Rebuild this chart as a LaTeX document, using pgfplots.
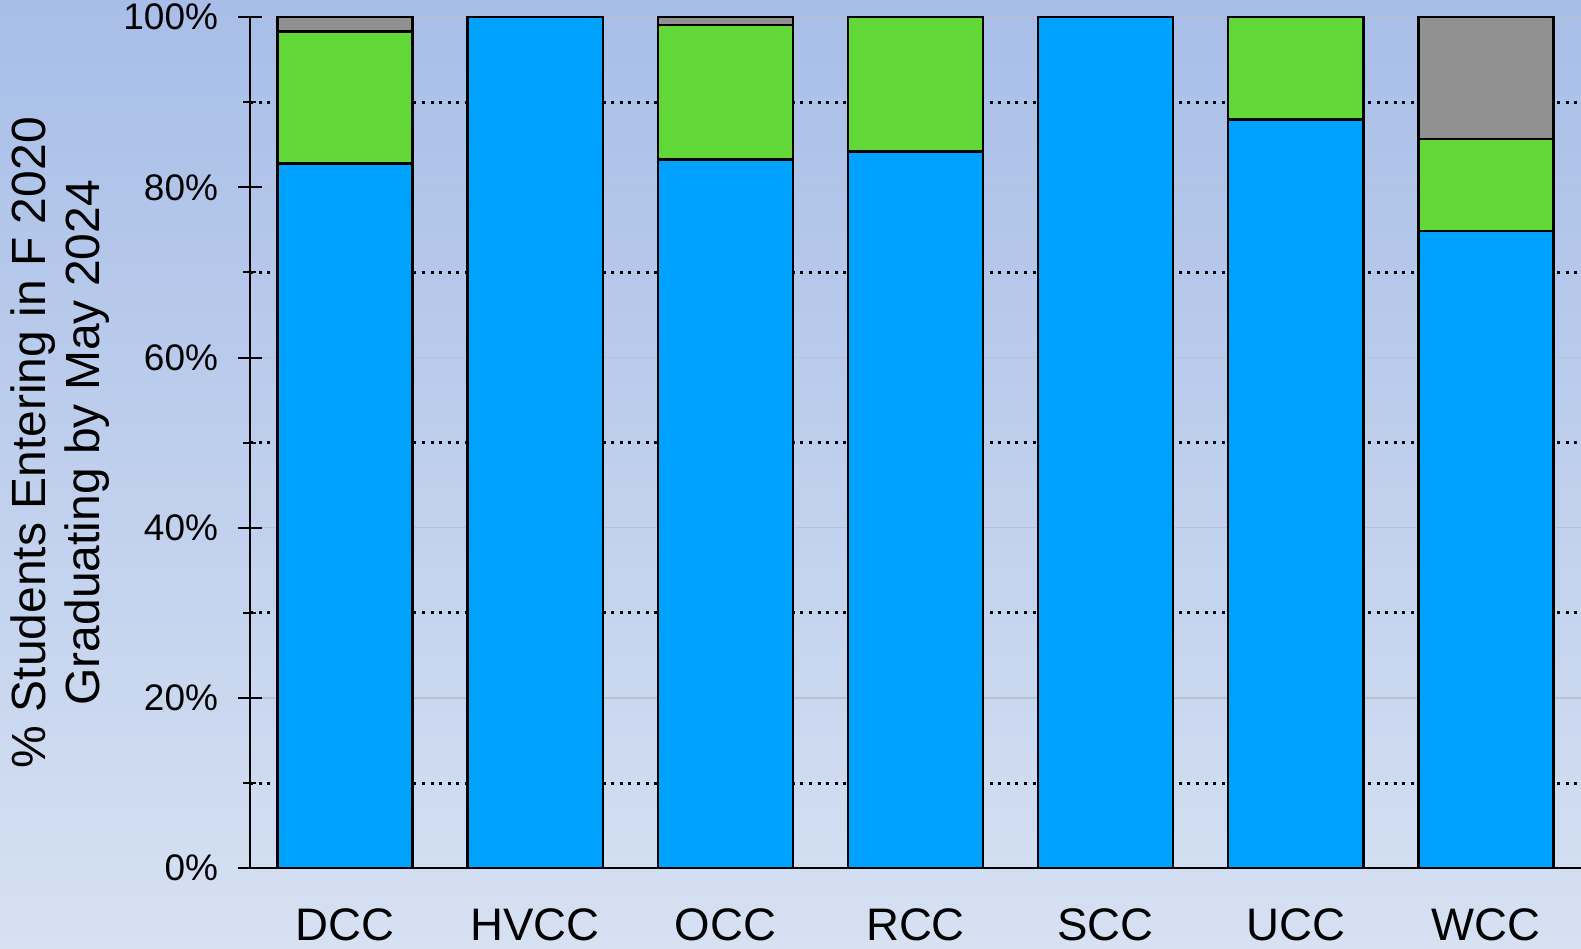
\documentclass[border=0pt]{standalone}
\usepackage{pgfplots}
\pgfplotsset{compat=1.18}
\usepackage{fontspec}
\setmainfont{Liberation Sans}
\definecolor{cblue}{RGB}{0,162,255}
\definecolor{cgreen}{RGB}{98,216,56}
\definecolor{cgray}{RGB}{145,145,145}
\definecolor{bgtop}{RGB}{168,190,232}
\definecolor{bgbot}{RGB}{214,225,242}
\definecolor{gridgray}{RGB}{188,192,204}
\begin{document}
\begin{tikzpicture}
\shade[top color=bgtop, bottom color=bgbot] (-125pt,-40pt) rectangle (665.5pt,434.1pt);
\begin{axis}[
  at={(0,0)}, anchor=south west,
  width=665.5pt, height=425.5pt, scale only axis,
  ybar stacked, bar width=67.6pt,
  xmin=-0.5, xmax=6.5, ymin=0, ymax=100,
  xtick=data,
  xticklabels={DCC,HVCC,OCC,RCC,SCC,UCC,WCC},
  xtick style={draw=none},
  xticklabel style={font=\fontsize{22.8}{26}\selectfont, anchor=north, inner sep=0pt, yshift=-14pt},
  ytick={0,20,40,60,80,100},
  minor ytick={10,30,50,70,90},
  yticklabel={\pgfmathprintnumber{\tick}\%},
  yticklabel style={font=\fontsize{18.5}{22}\selectfont, anchor=east, inner sep=0pt, xshift=-10pt},
  /pgf/number format/assume math mode=true,
  tick align=center,
  major tick length=11.6pt, minor tick length=6.5pt,
  tick style={black, line width=1pt},
  ymajorgrids, yminorgrids,
  major grid style={gridgray, line width=0.6pt},
  minor grid style={black, line width=1.5pt, dash pattern=on 1.5pt off 2.8pt},
  axis x line*=bottom, axis y line*=left,
  axis line style={black, line width=1pt},
  ylabel={\% Students Entering in F 2020\\Graduating by May 2024},
  every axis y label/.style={at={(axis description cs:0,0.5)}, xshift=-95pt, rotate=90, anchor=center, align=center, font=\fontsize{24}{26.7}\selectfont},
  every axis plot/.append style={draw=black, line width=1.2pt},
  clip=false,
]
\addplot[fill=cblue] coordinates {(0,82.8) (1,100) (2,83.3) (3,84.2) (4,100) (5,88.0) (6,74.9)};
\addplot[fill=cgreen] coordinates {(0,15.5) (1,0) (2,15.75) (3,15.8) (4,0) (5,12.0) (6,10.8)};
\addplot[fill=cgray] coordinates {(0,1.7) (1,0) (2,0.95) (3,0) (4,0) (5,0) (6,14.3)};
\end{axis}
\pgfresetboundingbox
\useasboundingbox (-125pt,-40pt) rectangle (665.5pt,434.1pt);
\end{tikzpicture}
\end{document}
